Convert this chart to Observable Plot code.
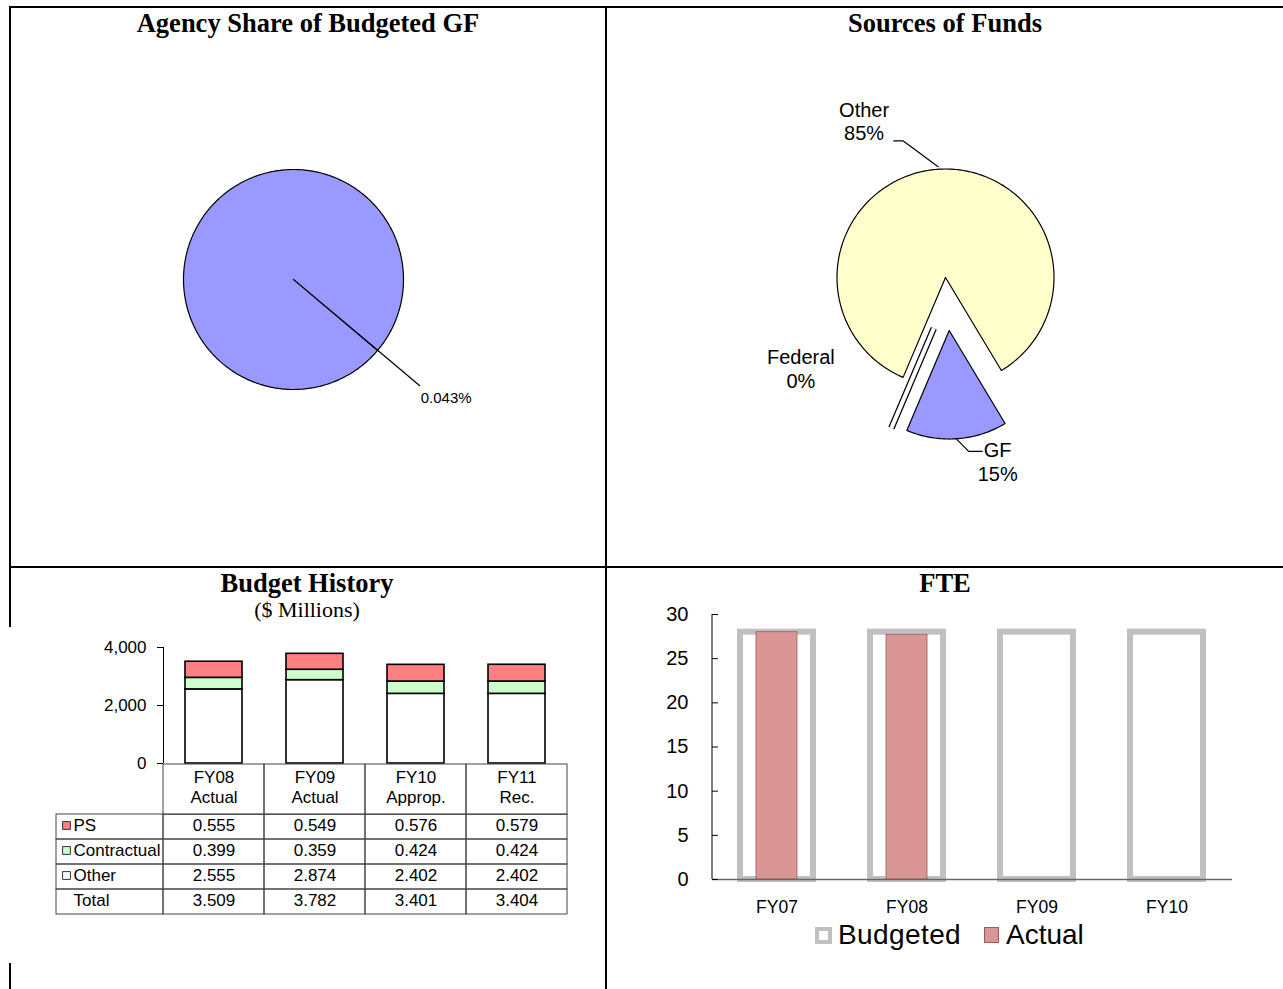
<!DOCTYPE html>
<html><head><meta charset="utf-8">
<script src="https://cdn.jsdelivr.net/npm/d3@7"></script>
<script src="https://cdn.jsdelivr.net/npm/@observablehq/plot@0.6"></script>
<style>
body{margin:0;background:#fff;}
#root{position:relative;width:1283px;height:989px;overflow:hidden;background:#fff;font-family:"Liberation Sans",Arial,sans-serif;color:#000;}
.abs{position:absolute;}
.title{position:absolute;font-family:"Liberation Serif","Times New Roman",serif;font-weight:bold;font-size:26.5px;line-height:26.5px;white-space:nowrap;transform:translateX(-50%);}
.sub{position:absolute;font-family:"Liberation Serif","Times New Roman",serif;font-size:22px;line-height:22px;white-space:nowrap;transform:translateX(-50%);}
.bd{position:absolute;background:#000;}
.leg{position:absolute;font-size:28px;line-height:28px;white-space:nowrap;}
</style></head>
<body><div id="root"></div>
<script>
// ---------------- data ----------------
const agencyShareLabels = ["Agency", "Rest of GF"];
const agencyShareValues = [0.043, 99.957];

const fundSources = ["Other", "GF", "Federal"];
const fundShares = [85, 15, 0];

const budgetYears = ["FY08", "FY09", "FY10", "FY11"];
const budgetYearSub = ["Actual", "Actual", "Approp.", "Rec."];
const budgetCategories = ["PS", "Contractual", "Other"];
const budgetPS = [0.555, 0.549, 0.576, 0.579];
const budgetContractual = [0.399, 0.359, 0.424, 0.424];
const budgetOther = [2.555, 2.874, 2.402, 2.402];
const budgetTotal = [3.509, 3.782, 3.401, 3.404];
const budgetTicks = [0, 2000, 4000];

const fteYears = ["FY07", "FY08", "FY09", "FY10"];
const fteBudgeted = [28, 28, 28, 28];
const fteActual = [28, 27.7, null, null];
const fteTicks = [0, 5, 10, 15, 20, 25, 30];
const fteSeries = ["Budgeted", "Actual"];

// ---------------- helpers ----------------
const root = document.getElementById("root");
const FONT = '"Liberation Sans", Arial, sans-serif';
function place(el, left, top) {
  const d = document.createElement("div");
  d.className = "abs"; d.style.left = left + "px"; d.style.top = top + "px";
  d.appendChild(el); root.appendChild(d); return d;
}
function html(cls, text, left, top, extra) {
  const d = document.createElement("div");
  d.className = cls; d.textContent = text;
  d.style.left = left + "px"; d.style.top = top + "px";
  if (extra) Object.assign(d.style, extra);
  root.appendChild(d); return d;
}
const rad = (deg) => deg * Math.PI / 180;
function arcPoints(a0, a1, off) {
  const pts = [[off[0], off[1]]];
  const n = Math.max(2, Math.ceil(Math.abs(a1 - a0) / rad(1)));
  for (let i = 0; i <= n; i++) {
    const a = a0 + (a1 - a0) * i / n;
    pts.push([off[0] + Math.sin(a), off[1] + Math.cos(a)]);
  }
  pts.push([off[0], off[1]]);
  return pts;
}
const baseStyle = {fontFamily: FONT, color: "#000", background: "transparent", overflow: "visible"};

// ---------------- Panel 1: Agency share pie ----------------
{
  const W = 594, H = 520, cx = 282, cy = 239, R = 110, start = rad(130);
  const arcs = d3.pie().sort(null).startAngle(start).endAngle(start + 2 * Math.PI)(agencyShareValues);
  const pts = arcs.flatMap((s, i) => arcPoints(s.startAngle, s.endAngle, [0, 0]).map(([x, y]) => ({slice: agencyShareLabels[i], x, y})));
  const s0 = arcs[0], m = (s0.startAngle + s0.endAngle) / 2;
  const leader = [1, 1.5].map(r => ({x: r * Math.sin(m), y: r * Math.cos(m)}));
  const lab = [{x: 1.5 * Math.sin(m), y: 1.5 * Math.cos(m), text: agencyShareValues[0] + "%"}];
  const svg = Plot.plot({
    width: W, height: H, margin: 0, style: baseStyle,
    x: {domain: [-cx / R, (W - cx) / R], axis: null},
    y: {domain: [-(H - cy) / R, cy / R], axis: null},
    marks: [
      Plot.line(pts, {x: "x", y: "y", z: "slice", fill: "#9999ff", stroke: "#000", strokeWidth: 1.2, curve: "linear"}),
      Plot.line(leader, {x: "x", y: "y", stroke: "#000", strokeWidth: 1.2}),
      Plot.text(lab, {x: "x", y: "y", text: "text", textAnchor: "start", dx: 1, dy: 12, fontSize: 15})
    ]
  });
  place(svg, 11, 40);
}

// ---------------- Panel 2: Sources of funds pie ----------------
{
  const W = 675, H = 520, cx = 338, cy = 237, R = 108.5, start = rad(203);
  const explode = {GF: {r: 0.49}, Federal: {r: 0.48, angle: rad(193)}};
  const colors = {Other: "#ffffcc", GF: "#9999ff"};
  const labelPos = {Other: [-0.75, 1.444], Federal: [-1.333, -0.838], GF: [0.481, -1.69]};
  const leaders = {
    Other: [[-0.481, 1.259], [-0.389, 1.259], [-0.065, 1.019]],
    GF: [[0.093, -1.481], [0.213, -1.602], [0.343, -1.602]]
  };
  const arcs = d3.pie().sort(null).startAngle(start).endAngle(start + 2 * Math.PI)(fundShares);
  const wedgePts = [], fedPts = [];
  arcs.forEach((s, i) => {
    const name = fundSources[i];
    const mid = (s.startAngle + s.endAngle) / 2;
    const ex = explode[name];
    const a = ex ? (ex.angle ?? mid) : mid, r = ex ? ex.r : 0;
    const off = [r * Math.sin(a), r * Math.cos(a)];
    if (s.endAngle - s.startAngle > 1e-9) {
      arcPoints(s.startAngle, s.endAngle, off).forEach(([x, y]) => wedgePts.push({slice: name, color: colors[name], x, y}));
    } else {
      fedPts.push({x: off[0], y: off[1]}, {x: off[0] + Math.sin(s.startAngle), y: off[1] + Math.cos(s.startAngle)});
    }
  });
  const leaderPts = Object.entries(leaders).flatMap(([k, pts]) => pts.map(([x, y]) => ({k, x, y})));
  const labels = fundSources.map((n, i) => ({x: labelPos[n][0], y: labelPos[n][1], text: `${n}\n${fundShares[i]}%`}));
  const svg = Plot.plot({
    width: W, height: H, margin: 0, style: baseStyle,
    x: {domain: [-cx / R, (W - cx) / R], axis: null},
    y: {domain: [-(H - cy) / R, cy / R], axis: null},
    marks: [
      Plot.line(wedgePts, {x: "x", y: "y", z: "slice", fill: "color", stroke: "#000", strokeWidth: 1.2, curve: "linear"}),
      Plot.line(fedPts, {x: "x", y: "y", stroke: "#000", strokeWidth: 6.5, strokeLinecap: "butt"}),
      Plot.line(fedPts, {x: "x", y: "y", stroke: "#fff", strokeWidth: 4, strokeLinecap: "butt"}),
      Plot.line(leaderPts, {x: "x", y: "y", z: "k", stroke: "#000", strokeWidth: 1.2, strokeLinecap: "butt", strokeLinejoin: "miter"}),
      Plot.text(labels, {x: "x", y: "y", text: "text", fontSize: 20, lineHeight: 1.2})
    ]
  });
  place(svg, 607, 40);
}

// ---------------- Panel 3: Budget history ----------------
{
  const colors = ["#ff8080", "#ccffcc", "#ffffff"];
  const seriesByCat = {PS: budgetPS, Contractual: budgetContractual, Other: budgetOther};
  const rows = budgetYears.flatMap((y, i) => ["Other", "Contractual", "PS"].map(c => ({year: y, cat: c, value: seriesByCat[c][i] * 1000})));
  const tableLeft = 56, plotLeft = 163, tableRight = 567;
  const labelW = plotLeft - tableLeft;
  const colW = (tableRight - plotLeft) / budgetYears.length;
  // bars
  const barSvg = Plot.plot({
    width: 600, height: 133, marginTop: 17, marginBottom: 0, marginLeft: plotLeft, marginRight: 600 - tableRight,
    style: {...baseStyle, fontSize: "17px"},
    x: {domain: budgetYears, paddingInner: 0.44, paddingOuter: 0.22, axis: null},
    y: {domain: [0, 4000], label: null},
    color: {domain: budgetCategories, range: colors},
    marks: [
      Plot.barY(rows, {x: "year", y: "value", fill: "cat", stroke: "#000", strokeWidth: 1.6}),
      Plot.ruleX([budgetYears[0]], {y1: 0, y2: 4000, dx: -colW / 2, stroke: "#000", strokeWidth: 1}),
      Plot.axisY({ticks: budgetTicks, tickFormat: d3.format(","), tickSize: 6, tickPadding: 11, fontSize: 17})
    ]
  });
  place(barSvg, 0, 630);

  // table
  const tableRows = ["h1", "h2", ...budgetCategories, "Total"];
  const TH = 154, rowH = (TH - 2) / tableRows.length;
  const bodyRows = [...budgetCategories, "Total"];
  const bodyCells = bodyRows.flatMap(r => budgetYears.map(c => ({row: r, col: c})));
  const labelCells = bodyRows.map(r => ({row: r, col: budgetYears[0]}));
  const headCells = budgetYears.map(c => ({row: "h1", col: c}));
  const headText1 = budgetYears.map(c => ({row: "h1", col: c, text: c}));
  const headText2 = budgetYears.map((c, i) => ({row: "h2", col: c, text: budgetYearSub[i]}));
  const valuesByRow = {...seriesByCat, Total: budgetTotal};
  const valueText = bodyRows.flatMap(r => budgetYears.map((c, i) => ({row: r, col: c, text: d3.format(".3f")(valuesByRow[r][i])})));
  const rowLabels = bodyRows.map(r => ({row: r, col: budgetYears[0], text: r}));
  const swatches = budgetCategories.map(r => ({row: r, col: budgetYears[0], cat: r}));
  const labelDx = -colW / 2 - labelW;
  const tblSvg = Plot.plot({
    width: 600, height: TH, marginTop: 1, marginBottom: 1, marginLeft: plotLeft, marginRight: 600 - tableRight,
    style: {...baseStyle, fontSize: "17px"},
    x: {domain: budgetYears, padding: 0, axis: null},
    y: {domain: tableRows, padding: 0, axis: null},
    color: {domain: budgetCategories, range: colors},
    marks: [
      Plot.cell(bodyCells, {x: "col", y: "row", fill: "none", stroke: "#444", strokeWidth: 1}),
      Plot.cell(labelCells, {x: "col", y: "row", fill: "none", stroke: "#444", strokeWidth: 1, insetLeft: -labelW, insetRight: colW}),
      Plot.cell(headCells, {x: "col", y: "row", fill: "none", stroke: "#444", strokeWidth: 1, insetBottom: -rowH}),
      Plot.text(headText1, {x: "col", y: "row", text: "text", fontSize: 17, dy: 1}),
      Plot.text(headText2, {x: "col", y: "row", text: "text", fontSize: 17, dy: -4}),
      Plot.text(valueText, {x: "col", y: "row", text: "text", fontSize: 17, dy: -1.5}),
      Plot.text(rowLabels, {x: "col", y: "row", text: "text", fontSize: 17, textAnchor: "start", dx: labelDx + 17, dy: -1.5}),
      Plot.dot(swatches, {x: "col", y: "row", fill: "cat", stroke: "#333", strokeWidth: 1, symbol: "square", r: 4.4, dx: labelDx + 10, dy: -1.5})
    ]
  });
  place(tblSvg, 0, 762);
}

// ---------------- Panel 4: FTE ----------------
{
  const rows = fteYears.map((y, i) => ({year: y, Budgeted: fteBudgeted[i], Actual: fteActual[i]}));
  const step = (1282 - 50 - 712) / fteYears.length;
  const svg = Plot.plot({
    width: 675, height: 320, marginTop: 14, marginBottom: 41, marginLeft: 105, marginRight: 50,
    style: {...baseStyle, fontSize: "18px"},
    x: {domain: fteYears, paddingInner: 0.438, paddingOuter: 0.219, label: null},
    y: {domain: [0, 30], label: null},
    marks: [
      Plot.barY(rows, {x: "year", y: fteSeries[0], fill: "#fff", stroke: "#c0c0c0", strokeWidth: 6}),
      Plot.barY(rows.filter(d => d.Actual != null), {x: "year", y: fteSeries[1], fill: "#d99694", stroke: "#9c5b5a", strokeWidth: 0.8, insetLeft: 16, insetRight: 16}),
      Plot.ruleY([0], {stroke: "#666", strokeWidth: 1.5}),
      Plot.ruleX([fteYears[0]], {y1: 0, y2: 30, dx: -step / 2, stroke: "#000", strokeWidth: 1}),
      Plot.axisY({ticks: fteTicks, tickSize: -6, tickPadding: 30, fontSize: 20}),
      Plot.axisX({tickSize: 0, tickPadding: 21, fontSize: 17.5})
    ]
  });
  place(svg, 607, 600);
  // legend
  const sq1 = document.createElement("div");
  Object.assign(sq1.style, {position: "absolute", left: "815px", top: "927px", width: "17px", height: "17px", border: "4px solid #c0c0c0", boxSizing: "border-box", background: "#fff"});
  root.appendChild(sq1);
  html("leg", fteSeries[0], 838, 921, {letterSpacing: "0.4px"});
  const sq2 = document.createElement("div");
  Object.assign(sq2.style, {position: "absolute", left: "984px", top: "927px", width: "15px", height: "16px", border: "1px solid #9c5b5a", boxSizing: "border-box", background: "#d99694"});
  root.appendChild(sq2);
  html("leg", fteSeries[1], 1006, 921);
}

// ---------------- titles ----------------
html("title", "Agency Share of Budgeted GF", 308, 10);
html("title", "Sources of Funds", 945, 10);
html("title", "Budget History", 307, 570);
html("sub", "($ Millions)", 307, 599);
html("title", "FTE", 945, 570);

// ---------------- borders ----------------
[[9, 6, 1274, 2], [9, 6, 2, 621], [9, 963, 2, 26], [605, 6, 2, 983], [9, 566, 1274, 2]].forEach(([l, t, w, h]) => {
  const d = document.createElement("div"); d.className = "bd";
  Object.assign(d.style, {left: l + "px", top: t + "px", width: w + "px", height: h + "px"});
  root.appendChild(d);
});
</script>
</body></html>
